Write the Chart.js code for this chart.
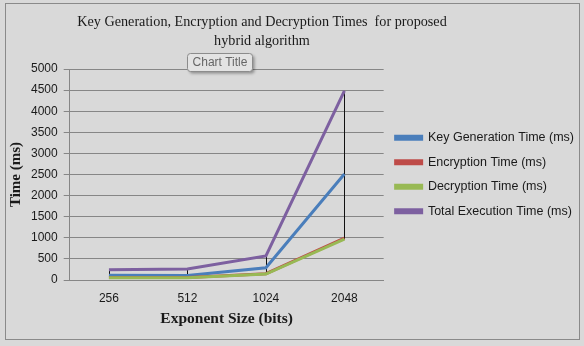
<!DOCTYPE html>
<html>
<head>
<meta charset="utf-8">
<script src="https://cdn.jsdelivr.net/npm/chart.js@4.4.0/dist/chart.umd.min.js"></script>
<style>
  html, body { margin: 0; padding: 0; background: #d9d9d9; }
  #wrap { width: 584px; height: 346px; }
</style>
</head>
<body>
<div id="wrap"><canvas id="myChart" width="584" height="346"></canvas></div>
<script>
const categories = ["256", "512", "1024", "2048"];
const keyGenTimes = [110, 105, 290, 2510];
const encryptionTimes = [60, 60, 150, 990];
const decryptionTimes = [55, 55, 140, 970];
const totalTimes = [240, 262, 571, 4480];
const yTicks = [0, 500, 1000, 1500, 2000, 2500, 3000, 3500, 4000, 4500, 5000];

const titleLines = ["Key Generation, Encryption and Decryption Times  for proposed", "hybrid algorithm"];

// fond gris + cadre
const framePlugin = {
  id: "frame",
  beforeDraw(chart) {
    const ctx = chart.ctx;
    ctx.save();
    ctx.fillStyle = "#d9d9d9";
    ctx.fillRect(0, 0, chart.width, chart.height);
    ctx.strokeStyle = "#8a8a8a";
    ctx.lineWidth = 1;
    ctx.strokeRect(5.5, 3.5, 574, 336);
    ctx.restore();
  },
  afterDraw(chart) {
    const ctx = chart.ctx;
    ctx.save();
    // titre
    ctx.fillStyle = "#1a1a1a";
    ctx.font = "14.2px 'Liberation Serif'";
    ctx.textAlign = "center";
    ctx.textBaseline = "middle";
    ctx.fillText(titleLines[0], 262, 22);
    ctx.fillText(titleLines[1], 262, 41);
    // boite "Chart Title"
    ctx.shadowColor = "rgba(0,0,0,0.35)";
    ctx.shadowBlur = 3;
    ctx.shadowOffsetX = 2;
    ctx.shadowOffsetY = 2;
    ctx.fillStyle = "#e3e3e3";
    ctx.beginPath();
    ctx.roundRect(187.5, 53.5, 65, 18, 3);
    ctx.fill();
    ctx.shadowColor = "transparent";
    ctx.strokeStyle = "#8c8c8c";
    ctx.stroke();
    ctx.fillStyle = "#666";
    ctx.font = "12px 'Liberation Sans'";
    ctx.fillText("Chart Title", 220, 63);
    ctx.restore();
  }
};

// lignes haut-bas
const hiLoPlugin = {
  id: "hilo",
  beforeDatasetsDraw(chart) {
    const ctx = chart.ctx;
    const x = chart.scales.x, y = chart.scales.y;
    ctx.save();
    ctx.strokeStyle = "#111";
    ctx.lineWidth = 1;
    categories.forEach((c, i) => {
      const vals = chart.data.datasets.map(d => d.data[i]);
      const px = Math.round(x.getPixelForValue(i)) + 0.5;
      ctx.beginPath();
      ctx.moveTo(px, y.getPixelForValue(Math.min(...vals)));
      ctx.lineTo(px, y.getPixelForValue(Math.max(...vals)));
      ctx.stroke();
    });
    ctx.restore();
  }
};

const ctx = document.getElementById("myChart");
new Chart(ctx, {
  type: "line",
  data: {
    labels: categories,
    datasets: [
      { label: "Key Generation Time (ms)", data: keyGenTimes, borderColor: "#4a7ebb", backgroundColor: "#4a7ebb", order: 3 },
      { label: "Encryption Time (ms)", data: encryptionTimes, borderColor: "#be4b48", backgroundColor: "#be4b48", order: 2 },
      { label: "Decryption Time (ms)", data: decryptionTimes, borderColor: "#98b954", backgroundColor: "#98b954", order: 1 },
      { label: "Total Execution Time (ms)", data: totalTimes, borderColor: "#7d60a0", backgroundColor: "#7d60a0", order: 0 },
    ],
  },
  options: {
    responsive: false,
    animation: false,
    elements: {
      line: { borderWidth: 3, tension: 0 },
      point: { radius: 0 },
    },
    layout: { padding: { top: 69, left: 5, right: 0, bottom: 18 } },
    plugins: {
      title: { display: false },
      tooltip: { enabled: false },
      legend: {
        position: "right",
        fullSize: false,
        maxWidth: 230,
        labels: {
          boxWidth: 26,
          boxHeight: 3,
          padding: 12,
          color: "#1a1a1a",
          font: { family: "'Liberation Sans'", size: 12.5 },
          sort: (a, b) => a.datasetIndex - b.datasetIndex,
        },
      },
    },
    scales: {
      x: {
        offset: true,
        grid: { display: false },
        border: { color: "#868686" },
        ticks: { color: "#1a1a1a", font: { family: "'Liberation Sans'", size: 12 }, padding: 3 },
        title: { display: true, text: "Exponent Size (bits)", color: "#1a1a1a", font: { family: "'Liberation Serif'", size: 15.5, weight: "bold" }, padding: { top: 1, bottom: 0 } },
      },
      y: {
        min: 0,
        max: 5000,
        afterBuildTicks(scale) { scale.ticks = yTicks.map(v => ({ value: v })); },
        grid: { color: "#868686", tickLength: 6 },
        border: { color: "#868686" },
        ticks: { color: "#1a1a1a", font: { family: "'Liberation Sans'", size: 12 }, padding: 6, callback: v => String(v) },
        title: { display: true, text: "Time (ms)", color: "#1a1a1a", font: { family: "'Liberation Serif'", size: 15, weight: "bold" }, padding: { top: 2, bottom: 0 } },
      },
    },
  },
  plugins: [framePlugin, hiLoPlugin],
});
</script>
</body>
</html>
